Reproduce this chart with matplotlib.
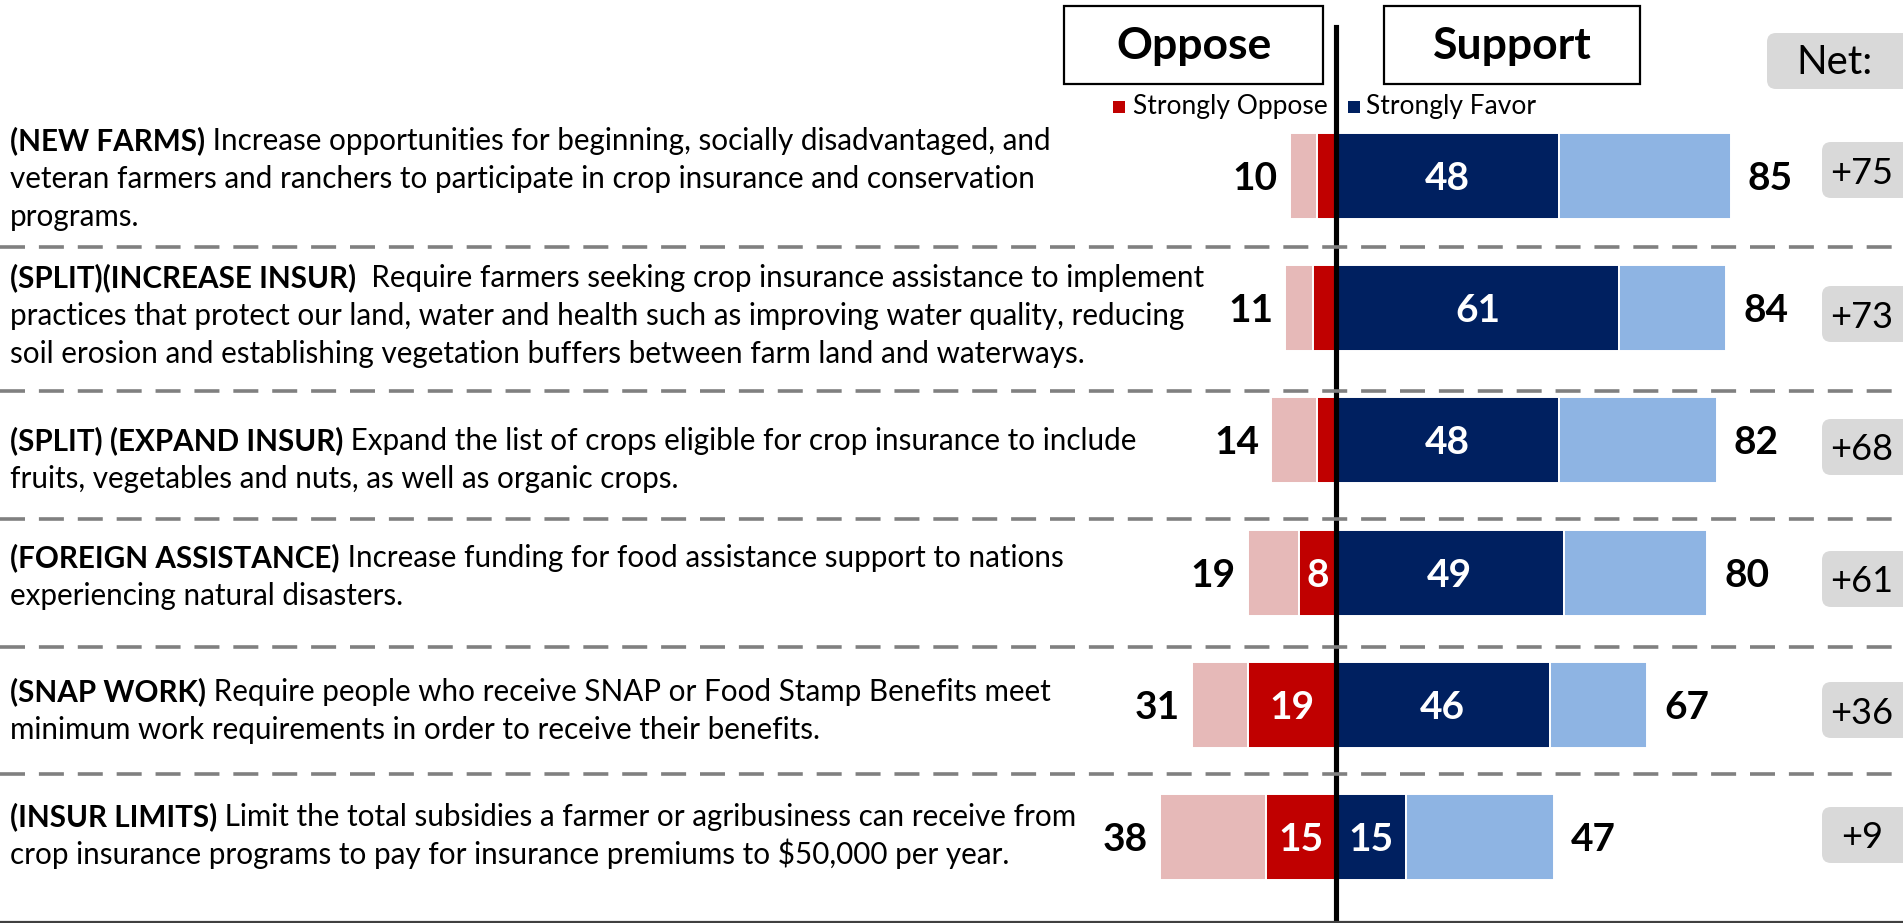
import matplotlib
matplotlib.use("Agg")
import matplotlib.pyplot as plt
from matplotlib.patches import Rectangle, FancyBboxPatch
from matplotlib.lines import Line2D
from matplotlib.transforms import Affine2D

plt.rcParams["font.family"] = ["Lato", "DejaVu Sans"]
plt.rcParams["lines.scale_dashes"] = False

# ---- data -------------------------------------------------------------
labels_bold = [
    "(NEW FARMS)",
    "(SPLIT)(INCREASE INSUR)",
    "(SPLIT) (EXPAND INSUR)",
    "(FOREIGN ASSISTANCE)",
    "(SNAP WORK)",
    "(INSUR LIMITS)",
]
labels_text = [
    [" Increase opportunities for beginning, socially disadvantaged, and",
     "veteran farmers and ranchers to participate in crop insurance and conservation",
     "programs."],
    ["  Require farmers seeking crop insurance assistance to implement",
     "practices that protect our land, water and health such as improving water quality, reducing",
     "soil erosion and establishing vegetation buffers between farm land and waterways."],
    [" Expand the list of crops eligible for crop insurance to include",
     "fruits, vegetables and nuts, as well as organic crops."],
    [" Increase funding for food assistance support to nations",
     "experiencing natural disasters."],
    [" Require people who receive SNAP or Food Stamp Benefits meet",
     "minimum work requirements in order to receive their benefits."],
    [" Limit the total subsidies a farmer or agribusiness can receive from",
     "crop insurance programs to pay for insurance premiums to \\$50,000 per year."],
]
strong_oppose = [4, 5, 4, 8, 19, 15]
total_oppose = [10, 11, 14, 19, 31, 38]
strong_favor = [48, 61, 48, 49, 46, 15]
total_support = [85, 84, 82, 80, 67, 47]
net = [75, 73, 68, 61, 36, 9]

# ---- colours ------------------------------------------------------------
PINK = "#E6B9B8"
RED = "#C00000"
NAVY = "#002060"
LIGHTBLUE = "#8EB4E3"
GREY_BOX = "#D9D9D9"

# ---- layout (pixels) --------------------------------------------------------
W, H, DPI = 1903, 923, 100
CX = 1336.0          # pixel column of the zero line
PX_PER_PCT = 4.643   # pixels per percentage point
ROW0 = 176.0         # pixel row of the first bar centre
ROW_STEP = 132.2     # pixels between bar centres
BAR_PX = 86.0

text_baselines = [150, 287, 450, 567, 701, 826]
line_step = 38
separators = [247, 391, 519, 647, 774]
net_centers = [170, 314, 447, 579, 710, 835]

fig = plt.figure(figsize=(W / DPI, H / DPI), dpi=DPI)
fig.patch.set_facecolor("white")
ax = fig.add_axes([0, 0, 1, 1])
ax.set_xlim(-CX / PX_PER_PCT, (W - CX) / PX_PER_PCT)
ax.set_ylim((H - ROW0) / ROW_STEP, -ROW0 / ROW_STEP)
ax.axis("off")

# pixel-space transform, origin top-left
px = Affine2D().scale(1, -1).translate(0, H)

rows = list(range(len(total_oppose)))
bar_h = BAR_PX / ROW_STEP

# ---- bars ---------------------------------------------------------------
so_neg = [-v for v in strong_oppose]
weak_oppose = [-(t - s) for t, s in zip(total_oppose, strong_oppose)]
weak_favor = [t - s for t, s in zip(total_support, strong_favor)]

edge = dict(edgecolor="white", linewidth=1.4)
ax.barh(rows, weak_oppose, left=so_neg, height=bar_h, color=PINK, **edge)
ax.barh(rows, so_neg, height=bar_h, color=RED, **edge)
ax.barh(rows, strong_favor, height=bar_h, color=NAVY, **edge)
ax.barh(rows, weak_favor, left=strong_favor, height=bar_h, color=LIGHTBLUE, **edge)

dy = 14 / ROW_STEP  # baseline offset so digits sit centred on the bar
num_kw = dict(fontsize=28, fontweight="bold", va="baseline")
for i in rows:
    ax.text(-total_oppose[i] - 12 / PX_PER_PCT, i + dy, str(total_oppose[i]),
            ha="right", color="black", **num_kw)
    ax.text(total_support[i] + 17 / PX_PER_PCT, i + dy, str(total_support[i]),
            ha="left", color="black", **num_kw)
    ax.text(strong_favor[i] / 2, i + dy, str(strong_favor[i]),
            ha="center", color="white", **num_kw)
    if strong_oppose[i] >= 8:
        ax.text(-strong_oppose[i] / 2, i + dy, str(strong_oppose[i]),
                ha="center", color="white", **num_kw)

# zero line
ax.axvline(0, ymin=0, ymax=1 - 27 / H, color="black", linewidth=3.7, zorder=5)

# ---- separators --------------------------------------------------------
for y in separators:
    fig.add_artist(Line2D([0, W], [y, y], transform=px, color="#808080",
                          linewidth=2.6, linestyle=(0, (18, 10)), zorder=1))
fig.add_artist(Line2D([0, W], [921.5, 921.5], transform=px, color="#404040",
                      linewidth=1.6))

# ---- row descriptions ------------------------------------------------------
fig.canvas.draw()
renderer = fig.canvas.get_renderer()
BODY = 21.3
for i in rows:
    b = text_baselines[i]
    t = fig.text(10, b, labels_bold[i], transform=px, fontsize=BODY,
                 fontweight="bold", va="baseline", ha="left")
    x1 = t.get_window_extent(renderer).x1
    fig.text(x1, b, labels_text[i][0], transform=px, fontsize=BODY,
             va="baseline", ha="left")
    for k, line in enumerate(labels_text[i][1:], start=1):
        fig.text(10, b + k * line_step, line, transform=px, fontsize=BODY,
                 va="baseline", ha="left")

# ---- headers ------------------------------------------------------------
for (x0, x1), label in [((1064, 1323), "Oppose"), ((1384, 1640), "Support")]:
    fig.add_artist(Rectangle((x0, 6), x1 - x0, 78, transform=px,
                             facecolor="white", edgecolor="black", linewidth=1.6))
    fig.text((x0 + x1) / 2, 59, label, transform=px, fontsize=32,
             fontweight="bold", ha="center", va="baseline")

# legend
fig.add_artist(Rectangle((1113, 101), 12, 12, transform=px, facecolor=RED,
                         edgecolor="none"))
fig.text(1133, 114, "Strongly Oppose", transform=px, fontsize=19,
         ha="left", va="baseline")
fig.add_artist(Rectangle((1348, 101), 12, 12, transform=px, facecolor=NAVY,
                         edgecolor="none"))
fig.text(1366, 114, "Strongly Favor", transform=px, fontsize=19,
         ha="left", va="baseline")

# net column
def grey_box(x0, x1, yc, h):
    fig.add_artist(FancyBboxPatch((x0, yc - h / 2), x1 - x0, h, transform=px,
                                  boxstyle="round,pad=0,rounding_size=9",
                                  facecolor=GREY_BOX, edgecolor="none"))

grey_box(1767, 1912, 61, 56)
fig.text(1835, 74, "Net:", transform=px, fontsize=29, ha="center", va="baseline")
for i in rows:
    yc = net_centers[i]
    grey_box(1822, 1912, yc, 56)
    fig.text(1862, yc + 13.5, f"+{net[i]}", transform=px, fontsize=26,
             ha="center", va="baseline")

fig.savefig("out.png", dpi=DPI, facecolor="white")
